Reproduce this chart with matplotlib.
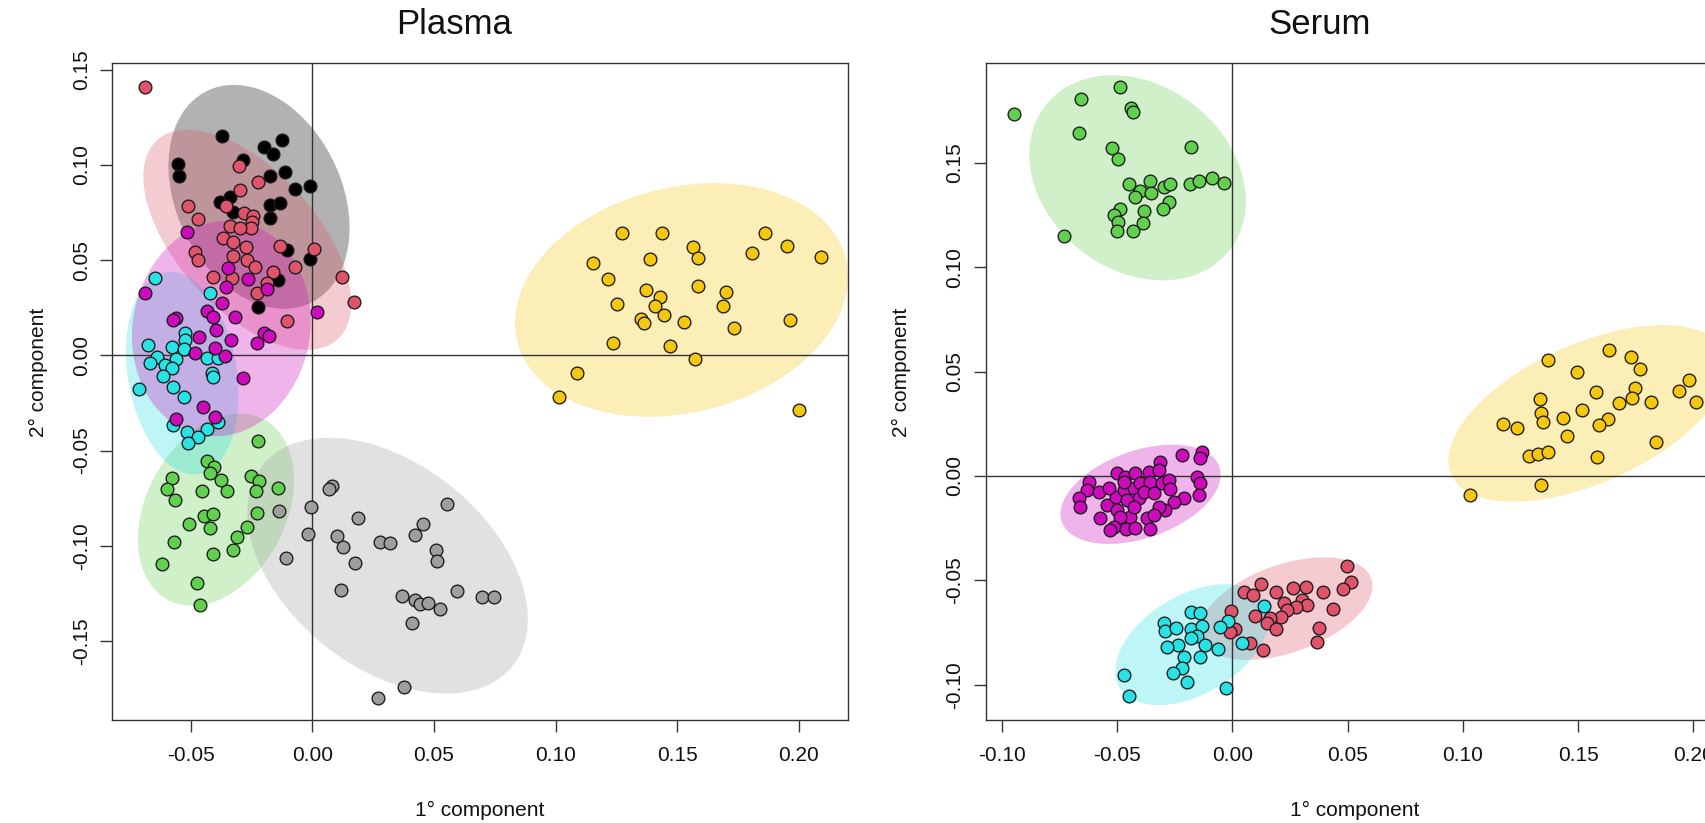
import numpy as np
import matplotlib
matplotlib.use("Agg")
import matplotlib.pyplot as plt
from matplotlib.patches import Ellipse
from matplotlib.ticker import FixedLocator, FixedFormatter

plt.rcParams["font.family"] = ["Liberation Sans", "DejaVu Sans"]
plt.rcParams["axes.unicode_minus"] = False

# ---------------- Plasma scores (component 1, component 2) ----------------
plasma_black_x = [-0.0372, -0.0201, -0.0163, -0.0126, -0.0551, -0.0547, -0.0286, -0.0174, -0.0112,
                  -0.0071, -0.0009, -0.0379, -0.0338, -0.0174, -0.0133, -0.0174, -0.0325, -0.0105,
                  -0.0009, -0.0140, -0.0222]
plasma_black_y = [0.1151, 0.1092, 0.1060, 0.1130, 0.1004, 0.0941, 0.1025, 0.0941, 0.0964,
                  0.0876, 0.0889, 0.0807, 0.0833, 0.0789, 0.0798, 0.0720, 0.0754, 0.0553,
                  0.0504, 0.0395, 0.0255]

plasma_red_x = [-0.0688, -0.0300, -0.0222, -0.0297, -0.0355, -0.0510, -0.0471, -0.0281, -0.0243,
                -0.0249, -0.0253, -0.0338, -0.0297, -0.0366, -0.0325, -0.0273, -0.0482, -0.0133,
                0.0007, -0.0469, -0.0325, -0.0270, -0.0236, -0.0407, -0.0331, -0.0160, -0.0071,
                -0.0187, -0.0229, 0.0121, 0.0171, -0.0103]
plasma_red_y = [0.1411, 0.0994, 0.0908, 0.0868, 0.0786, 0.0786, 0.0716, 0.0746, 0.0733,
                0.0702, 0.0667, 0.0681, 0.0670, 0.0614, 0.0597, 0.0570, 0.0544, 0.0576,
                0.0557, 0.0501, 0.0522, 0.0501, 0.0465, 0.0413, 0.0404, 0.0439, 0.0465,
                0.0378, 0.0326, 0.0413, 0.0282, 0.0182]

plasma_green_x = [-0.0222, -0.0434, -0.0404, -0.0421, -0.0377, -0.0352, -0.0578, -0.0599, -0.0565,
                  -0.0455, -0.0253, -0.0218, -0.0231, -0.0140, -0.0445, -0.0410, -0.0421, -0.0506,
                  -0.0229, -0.0270, -0.0311, -0.0327, -0.0569, -0.0410, -0.0619, -0.0475, -0.0462]
plasma_green_y = [-0.0448, -0.0553, -0.0588, -0.0617, -0.0655, -0.0711, -0.0646, -0.0702, -0.0760,
                  -0.0711, -0.0634, -0.0660, -0.0711, -0.0695, -0.0842, -0.0834, -0.0909, -0.0886,
                  -0.0830, -0.0903, -0.0953, -0.1023, -0.0979, -0.1044, -0.1096, -0.1198, -0.1311]

plasma_cyan_x = [-0.0647, -0.0421, -0.0523, -0.0523, -0.0674, -0.0578, -0.0530, -0.0640, -0.0560,
                 -0.0667, -0.0606, -0.0578, -0.0434, -0.0387, -0.0613, -0.0414, -0.0407, -0.0711,
                 -0.0574, -0.0530, -0.0574, -0.0387, -0.0434, -0.0516, -0.0471, -0.0512]
plasma_cyan_y = [0.0404, 0.0329, 0.0116, 0.0080, 0.0054, 0.0045, 0.0031, -0.0007, -0.0021,
                 -0.0042, -0.0051, -0.0068, -0.0016, -0.0016, -0.0109, -0.0095, -0.0112, -0.0179,
                 -0.0168, -0.0217, -0.0366, -0.0349, -0.0387, -0.0401, -0.0427, -0.0460]

plasma_magenta_x = [-0.0348, -0.0263, -0.0355, -0.0187, -0.0688, -0.0372, -0.0434, -0.0407, -0.0318,
                    -0.0560, -0.0572, 0.0018, -0.0396, -0.0201, -0.0178, -0.0229, -0.0336, -0.0465,
                    -0.0400, -0.0482, -0.0359, -0.0284, -0.0448, -0.0560, -0.0400, -0.0516]
plasma_magenta_y = [0.0457, 0.0399, 0.0360, 0.0347, 0.0329, 0.0273, 0.0234, 0.0203, 0.0203,
                    0.0194, 0.0185, 0.0226, 0.0133, 0.0116, 0.0103, 0.0063, 0.0080, 0.0095,
                    0.0040, 0.0014, -0.0004, -0.0121, -0.0270, -0.0336, -0.0322, 0.0649]

plasma_yellow_x = [0.1272, 0.1437, 0.1564, 0.1586, 0.1861, 0.1951, 0.1807, 0.2092, 0.1155, 0.1389,
                   0.1215, 0.1371, 0.1430, 0.1586, 0.1700, 0.1254, 0.1409, 0.1447, 0.1687, 0.1353,
                   0.1363, 0.1530, 0.1735, 0.1966, 0.1235, 0.1471, 0.1574, 0.1087, 0.1013, 0.2000]
plasma_yellow_y = [0.0641, 0.0641, 0.0570, 0.0509, 0.0641, 0.0576, 0.0539, 0.0515, 0.0483, 0.0504,
                   0.0399, 0.0343, 0.0308, 0.0366, 0.0334, 0.0271, 0.0261, 0.0212, 0.0259, 0.0189,
                   0.0168, 0.0177, 0.0145, 0.0184, 0.0063, 0.0050, -0.0019, -0.0095, -0.0221, -0.0287]

plasma_gray_x = [0.0082, 0.0070, -0.0007, -0.0136, -0.0016, -0.0108, 0.0189, 0.0100, 0.0127, 0.0176,
                 0.0117, 0.0278, 0.0319, 0.0422, 0.0454, 0.0553, 0.0507, 0.0512, 0.0368, 0.0422,
                 0.0443, 0.0477, 0.0525, 0.0594, 0.0697, 0.0747, 0.0409, 0.0377, 0.0271]
plasma_gray_y = [-0.0686, -0.0704, -0.0795, -0.0818, -0.0939, -0.1065, -0.0856, -0.0949, -0.1008, -0.1092,
                 -0.1233, -0.0979, -0.0984, -0.0944, -0.0888, -0.0783, -0.1023, -0.1079, -0.1264, -0.1285,
                 -0.1306, -0.1302, -0.1334, -0.1238, -0.1268, -0.1271, -0.1404, -0.1741, -0.1801]

# ---------------- Serum scores (component 1, component 2) ----------------
serum_green_x = [-0.0947, -0.0656, -0.0487, -0.0440, -0.0433, -0.0668, -0.0523, -0.0498, -0.0178, -0.0733,
                 -0.0447, -0.0359, -0.0400, -0.0353, -0.0421, -0.0298, -0.0272, -0.0185, -0.0146, -0.0088,
                 -0.0035, -0.0274, -0.0303, -0.0385, -0.0487, -0.0516, -0.0498, -0.0388, -0.0501, -0.0433]
serum_green_y = [0.1734, 0.1804, 0.1865, 0.1761, 0.1742, 0.1644, 0.1570, 0.1517, 0.1577, 0.1150,
                 0.1397, 0.1413, 0.1367, 0.1357, 0.1335, 0.1386, 0.1399, 0.1399, 0.1414, 0.1429,
                 0.1405, 0.1314, 0.1277, 0.1271, 0.1277, 0.1250, 0.1218, 0.1213, 0.1174, 0.1174]

serum_magenta_x = [-0.0219, -0.0132, -0.0139, -0.0313, -0.0156, -0.0139, -0.0146, -0.0212, -0.0501, -0.0465,
                   -0.0421, -0.0364, -0.0320, -0.0624, -0.0631, -0.0581, -0.0668, -0.0660, -0.0544, -0.0504,
                   -0.0472, -0.0429, -0.0400, -0.0356, -0.0305, -0.0277, -0.0269, -0.0255, -0.0291, -0.0320,
                   -0.0407, -0.0457, -0.0501, -0.0443, -0.0487, -0.0371, -0.0342, -0.0573, -0.0516, -0.0460,
                   -0.0421, -0.0356, -0.0530, -0.0472, -0.0385, -0.0342, -0.0429, -0.0537]
serum_magenta_y = [0.0101, 0.0117, 0.0085, 0.0065, -0.0003, -0.0032, -0.0091, -0.0107, 0.0013, -0.0006,
                   0.0016, 0.0021, 0.0029, -0.0027, -0.0067, -0.0075, -0.0107, -0.0150, -0.0139, -0.0099,
                   -0.0067, -0.0059, -0.0035, -0.0027, -0.0035, -0.0019, -0.0064, -0.0123, -0.0163, -0.0147,
                   -0.0107, -0.0115, -0.0163, -0.0195, -0.0198, -0.0203, -0.0187, -0.0203, -0.0243, -0.0255,
                   -0.0251, -0.0255, -0.0259, -0.0027, -0.0075, -0.0083, -0.0147, -0.0059]

serum_red_x = [0.0498, 0.0516, 0.0479, 0.0125, 0.0049, 0.0090, 0.0190, 0.0264, 0.0321, 0.0392,
               0.0303, 0.0223, 0.0324, 0.0274, 0.0238, 0.0209, 0.0165, 0.0100, 0.0437, -0.0006,
               0.0151, 0.0187, 0.0013, -0.0009, 0.0375, 0.0368, 0.0078, 0.0133]
serum_red_y = [-0.0430, -0.0506, -0.0541, -0.0519, -0.0554, -0.0570, -0.0557, -0.0535, -0.0530, -0.0557,
               -0.0594, -0.0610, -0.0618, -0.0629, -0.0642, -0.0674, -0.0682, -0.0671, -0.0639, -0.0647,
               -0.0706, -0.0734, -0.0734, -0.0746, -0.0727, -0.0797, -0.0801, -0.0833]

serum_cyan_x = [0.0136, -0.0020, -0.0056, 0.0042, -0.0064, -0.0179, -0.0142, -0.0298, -0.0291, -0.0243,
                -0.0182, -0.0132, -0.0153, -0.0182, -0.0238, -0.0284, -0.0117, -0.0212, -0.0142, -0.0219,
                -0.0259, -0.0197, -0.0030, -0.0469, -0.0450]
serum_cyan_y = [-0.0623, -0.0693, -0.0722, -0.0801, -0.0829, -0.0650, -0.0658, -0.0703, -0.0742, -0.0730,
                -0.0733, -0.0719, -0.0766, -0.0777, -0.0810, -0.0818, -0.0810, -0.0869, -0.0866, -0.0918,
                -0.0945, -0.0988, -0.1017, -0.0951, -0.1055]

serum_yellow_x = [0.1635, 0.1729, 0.1769, 0.1370, 0.1494, 0.1982, 0.1939, 0.2011, 0.1580, 0.1746,
                  0.1733, 0.1678, 0.1816, 0.1335, 0.1338, 0.1350, 0.1519, 0.1435, 0.1632, 0.1591,
                  0.1176, 0.1234, 0.1451, 0.1838, 0.1287, 0.1328, 0.1370, 0.1581, 0.1341, 0.1031]
serum_yellow_y = [0.0604, 0.0568, 0.0511, 0.0556, 0.0497, 0.0460, 0.0409, 0.0353, 0.0401, 0.0420,
                  0.0375, 0.0348, 0.0353, 0.0367, 0.0300, 0.0260, 0.0316, 0.0276, 0.0273, 0.0244,
                  0.0249, 0.0228, 0.0192, 0.0164, 0.0096, 0.0105, 0.0113, 0.0093, -0.0043, -0.0091]

# Axis ranges and ticks
plasma_xlim = (-0.0822, 0.2201)
plasma_ylim = (-0.1917, 0.1537)
plasma_xticks = [-0.05, 0.00, 0.05, 0.10, 0.15, 0.20]
plasma_yticks = [-0.15, -0.10, -0.05, 0.00, 0.05, 0.10, 0.15]
serum_xlim = (-0.1071, 0.2131)
serum_ylim = (-0.1170, 0.1979)
serum_xticks = [-0.10, -0.05, 0.00, 0.05, 0.10, 0.15, 0.20]
serum_yticks = [-0.10, -0.05, 0.00, 0.05, 0.10, 0.15]

# R 4 default palette
COL = {
    "black": "#000000",
    "red": "#DF536B",
    "green": "#61D04F",
    "cyan": "#28E2E5",
    "magenta": "#CD0BBC",
    "yellow": "#F5C710",
    "gray": "#9E9E9E",
}

plasma_groups = [
    ("black", plasma_black_x, plasma_black_y),
    ("red", plasma_red_x, plasma_red_y),
    ("green", plasma_green_x, plasma_green_y),
    ("cyan", plasma_cyan_x, plasma_cyan_y),
    ("magenta", plasma_magenta_x, plasma_magenta_y),
    ("yellow", plasma_yellow_x, plasma_yellow_y),
    ("gray", plasma_gray_x, plasma_gray_y),
]
serum_groups = [
    ("green", serum_green_x, serum_green_y),
    ("magenta", serum_magenta_x, serum_magenta_y),
    ("red", serum_red_x, serum_red_y),
    ("cyan", serum_cyan_x, serum_cyan_y),
    ("yellow", serum_yellow_x, serum_yellow_y),
]

LEVEL = 0.95
T_SCALE = np.sqrt(-2.0 * np.log(1.0 - LEVEL))  # sqrt of chi-square(2 df) quantile


def confidence_ellipse(x, y, color, ax):
    x = np.asarray(x)
    y = np.asarray(y)
    cov = np.cov(x, y)
    vals, vecs = np.linalg.eigh(cov)
    order = vals.argsort()[::-1]
    vals, vecs = vals[order], vecs[:, order]
    angle = np.degrees(np.arctan2(vecs[1, 0], vecs[0, 0]))
    w, h = 2 * T_SCALE * np.sqrt(vals)
    e = Ellipse((x.mean(), y.mean()), w, h, angle=angle, facecolor=color,
                alpha=0.3, edgecolor="none", zorder=1)
    ax.add_patch(e)


def draw_panel(ax, groups, xlim, ylim, xticks, yticks):
    for name, gx, gy in groups:
        confidence_ellipse(gx, gy, COL[name], ax)
    ax.axhline(0, color="#333333", lw=1.0, zorder=2)
    ax.axvline(0, color="#333333", lw=1.0, zorder=2)
    for name, gx, gy in groups:
        ax.scatter(gx, gy, s=84, c=COL[name], edgecolors="#1a1a1a", linewidths=0.95, zorder=3)
    ax.set_xlim(*xlim)
    ax.set_ylim(*ylim)
    ax.xaxis.set_major_locator(FixedLocator(xticks))
    ax.xaxis.set_major_formatter(FixedFormatter([f"{v:.2f}" for v in xticks]))
    ax.yaxis.set_major_locator(FixedLocator(yticks))
    ax.yaxis.set_major_formatter(FixedFormatter([f"{v:.2f}" for v in yticks]))
    ax.tick_params(direction="out", length=8.4, width=1.0, color="#333333",
                   labelsize=15, labelcolor="#111111")
    ax.tick_params(axis="x", pad=10)
    ax.tick_params(axis="y", pad=7)
    for lab in ax.get_yticklabels():
        lab.set_rotation(90)
        lab.set_va("center")
    for sp in ax.spines.values():
        sp.set_color("#333333")
        sp.set_linewidth(1.0)


W, H = 1706, 823
fig = plt.figure(figsize=(W / 100, H / 100), dpi=100)
fig.patch.set_facecolor("white")

bottom = 1 - 720.3 / H
height = (720.3 - 62.7) / H
ax1 = fig.add_axes([112.5 / W, bottom, (847.6 - 112.5) / W, height])
ax2 = fig.add_axes([985.7 / W, bottom, (1723.4 - 985.7) / W, height])

draw_panel(ax1, plasma_groups, plasma_xlim, plasma_ylim, plasma_xticks, plasma_yticks)
draw_panel(ax2, serum_groups, serum_xlim, serum_ylim, serum_xticks, serum_yticks)

fig.text(453.7 / W, 1 - 25 / H, "Plasma", ha="center", va="center", fontsize=25, color="#111111")
fig.text(1319.7 / W, 1 - 25 / H, "Serum", ha="center", va="center", fontsize=25, color="#111111")

fig.text(480 / W, 1 - 816 / H, "1° component", ha="center", va="baseline", fontsize=15, color="#111111")
fig.text(1354.6 / W, 1 - 816 / H, "1° component", ha="center", va="baseline", fontsize=15, color="#111111")
fig.text(38 / W, 1 - 372 / H, "2° component", ha="center", va="center", rotation=90,
         fontsize=15, color="#111111")
fig.text(901 / W, 1 - 372 / H, "2° component", ha="center", va="center", rotation=90,
         fontsize=15, color="#111111")

fig.savefig("out.png", dpi=100, facecolor="white")
